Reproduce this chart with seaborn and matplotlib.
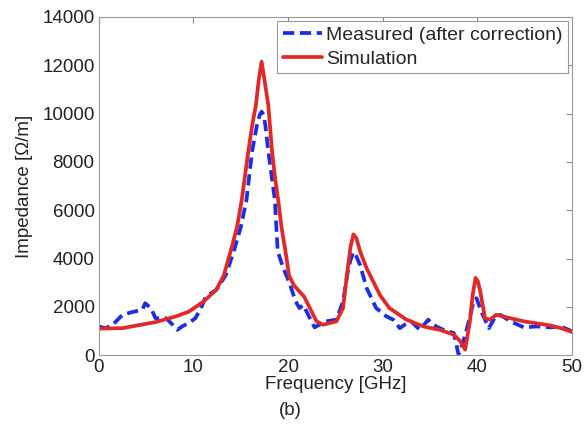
import pandas as pd
import numpy as np
import matplotlib

matplotlib.use("Agg")
import matplotlib.pyplot as plt
import seaborn as sns

# measured impedance (after correction)
meas_freq = [0, 0.7, 1.4, 2.5, 3.5, 4.6, 4.9, 5.5, 6.0, 7.1, 7.8, 8.3, 8.8, 9.5, 10.2,
             10.8, 11.3, 12.4, 13.4, 14.3, 15.0, 15.6, 16.2, 16.7, 17.0, 17.2, 17.4,
             17.6, 17.9, 18.3, 18.6, 18.9, 19.5, 20.1, 20.8, 21.2, 21.6, 22.3, 22.8,
             23.3, 24.0, 25.1, 25.8, 26.3, 26.6, 26.9, 27.2, 27.6, 28.3, 29.3, 30.4,
             31.1, 31.8, 32.3, 33.0, 33.9, 34.8, 35.3, 36.4, 37.5, 38.0, 38.4, 38.9,
             39.6, 39.9, 40.4, 41.2, 41.9, 42.4, 43.5, 44.9, 46.3, 47.7, 48.8, 50]
meas_imp = [1190, 1120, 1230, 1670, 1780, 1880, 2150, 1950, 1530, 1530, 1260, 1050, 1190,
            1330, 1530, 1950, 2420, 2700, 3300, 4350, 5300, 6420, 8450, 9500, 9950,
            10080, 9950, 9500, 8450, 7300, 6420, 4300, 3590, 3040, 2220, 1950, 2080,
            1530, 1150, 1260, 1400, 1470, 2220, 3450, 3950, 4270, 4100, 3730, 2770,
            1950, 1600, 1470, 1120, 1260, 1400, 1050, 1470, 1260, 1050, 920, 30, 440,
            1120, 2220, 2360, 1810, 1120, 1600, 1670, 1400, 1150, 1190, 1150, 1190, 990]

# simulated impedance
sim_freq = [0, 2.5, 6.0, 8.1, 9.5, 11.0, 12.4, 13.2, 14.0, 14.6, 15.1, 15.8, 16.2, 16.6,
            16.9, 17.2, 17.5, 17.9, 18.3, 18.6, 18.95, 19.3, 19.7, 20.1, 20.6, 21.2,
            21.7, 22.3, 23.0, 23.7, 25.1, 25.8, 26.3, 26.6, 26.9, 27.2, 27.6, 28.3,
            29.7, 30.7, 32.5, 34.3, 36.0, 37.5, 38.2, 38.7, 39.2, 39.5, 39.8, 40.05,
            40.3, 40.8, 41.3, 42.0, 43.5, 44.9, 47.7, 48.8, 50]
sim_imp = [1100, 1120, 1370, 1600, 1800, 2200, 2700, 3300, 4400, 5300, 6420, 8450, 9500,
           10360, 11400, 12150, 11400, 10360, 8450, 7400, 6420, 5300, 4350, 3300, 2900,
           2630, 2420, 1950, 1400, 1260, 1400, 1950, 3590, 4500, 5000, 4850, 4300,
           3590, 2490, 1950, 1470, 1190, 1050, 850, 575, 230, 1400, 2500, 3200, 3050,
           2630, 1530, 1470, 1670, 1530, 1400, 1230, 1120, 960]

xticks = [0, 10, 20, 30, 40, 50]
yticks = [0, 2000, 4000, 6000, 8000, 10000, 12000, 14000]

sns.set_style("white")
plt.rcParams["font.family"] = ["Liberation Sans", "DejaVu Sans"]
plt.rcParams["font.size"] = 13.5

df = pd.concat([
    pd.DataFrame({"freq": meas_freq, "imp": meas_imp, "series": "Measured (after correction)"}),
    pd.DataFrame({"freq": sim_freq, "imp": sim_imp, "series": "Simulation"}),
])

fig = plt.figure(figsize=(5.88, 4.44), dpi=100)
ax = fig.add_axes([0.168, 0.2, 0.805, 0.762])

sns.lineplot(data=df, x="freq", y="imp", hue="series", style="series",
             palette={"Measured (after correction)": "#1a2ee6", "Simulation": "#e02a2a"},
             dashes={"Measured (after correction)": (3, 1.5), "Simulation": ""},
             linewidth=2.7, ax=ax, sort=False)

ax.set_xlim(0, 50)
ax.set_ylim(0, 14000)
ax.set_xticks(xticks)
ax.set_yticks(yticks)
ax.tick_params(direction="in", top=True, right=True, length=4, color="#888888",
               labelsize=13.5, labelcolor="#222222", pad=3)
for s in ax.spines.values():
    s.set_color("#999999")
    s.set_linewidth(0.8)
ax.set_xlabel("Frequency [GHz]", fontsize=13.5, labelpad=0, color="#222222")
ax.set_ylabel("Impedance [Ω/m]", fontsize=13.5, labelpad=7, color="#222222")

leg = ax.legend(loc="upper right", fontsize=14, handlelength=2.0, handletextpad=0.2,
                borderpad=0.3, labelspacing=0.3, fancybox=False, framealpha=1,
                borderaxespad=0.2)
leg.get_frame().set_edgecolor("#999999")
leg.get_frame().set_linewidth(0.8)

fig.text(0.493, 0.065, "(b)", ha="center", fontsize=13.5, color="#222222")

fig.savefig("out.png", dpi=100, facecolor="w")
plt.close()
